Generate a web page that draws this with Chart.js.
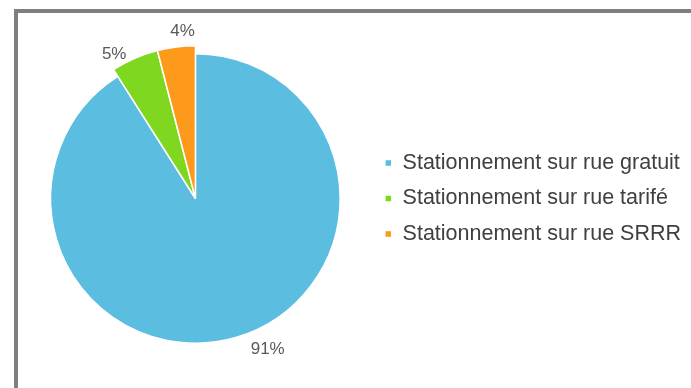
<!DOCTYPE html>
<html>
<head>
<meta charset="utf-8">
<script src="https://cdn.jsdelivr.net/npm/chart.js@4.4.1/dist/chart.umd.min.js"></script>
<style>
  html, body { margin: 0; padding: 0; background: #fff; overflow: hidden; }
  #wrap { position: absolute; left: 0; top: 0; width: 691px; height: 388px; }
  #cadre {
    position: absolute; left: 14px; top: 9px; width: 700px; height: 400px;
    border-left: 4px solid #7f7f7f; border-top: 4px solid #7f7f7f;
    pointer-events: none;
  }
</style>
</head>
<body>
<div id="wrap">
  <canvas id="camembert" width="691" height="388"></canvas>
  <div id="cadre"></div>
</div>
<script>
// Données du graphique
const categories = ['Stationnement sur rue gratuit', 'Stationnement sur rue tarifé', 'Stationnement sur rue SRRR'];
const parts = [91, 5, 4];
const couleurs = ['#5bbde0', '#7fd81f', '#fd9a1c'];

// Les petites parts dépassent un peu du disque
const debord = [0, 8, 8];
// petits décalages des étiquettes (en px)
const decalEtiq = [[28, -2], [-15, 9], [8, -2]];

const partsPlugin = {
    id: 'partsPlugin',
    beforeDatasetsDraw(chart) {
        const meta = chart.getDatasetMeta(0);
        const base = meta.controller.outerRadius;
        meta.data.forEach((arc, i) => {
            arc.outerRadius = base + debord[i];
        });
    },
    afterDatasetsDraw(chart) {
        const ctx = chart.ctx;
        const meta = chart.getDatasetMeta(0);
        ctx.save();
        ctx.font = '17px "Liberation Sans", Arial, sans-serif';
        ctx.fillStyle = '#595959';
        ctx.textAlign = 'center';
        ctx.textBaseline = 'middle';
        meta.data.forEach((arc, i) => {
            const mid = (arc.startAngle + arc.endAngle) / 2;
            const r = arc.outerRadius + 14;
            const x = arc.x + Math.cos(mid) * r + decalEtiq[i][0];
            const y = arc.y + Math.sin(mid) * r + decalEtiq[i][1];
            ctx.fillText(parts[i] + '%', x, y);
        });
        ctx.restore();
    }
};

const ctx = document.getElementById('camembert').getContext('2d');
new Chart(ctx, {
    type: 'pie',
    data: {
        labels: categories,
        datasets: [{
            data: parts,
            backgroundColor: couleurs,
            borderColor: '#ffffff',
            borderWidth: 1.5,
            clip: false
        }]
    },
    options: {
        responsive: false,
        animation: false,
        layout: {
            padding: { left: 20, right: 0, top: 53, bottom: 44 }
        },
        plugins: {
            tooltip: { enabled: false },
            legend: {
                position: 'right',
                align: 'center',
                labels: {
                    boxWidth: 7,
                    boxHeight: 7,
                    padding: 14,
                    color: '#404040',
                    font: { family: '"Liberation Sans", Arial, sans-serif', size: 21.5 }
                }
            }
        }
    },
    plugins: [partsPlugin]
});
</script>
</body>
</html>
